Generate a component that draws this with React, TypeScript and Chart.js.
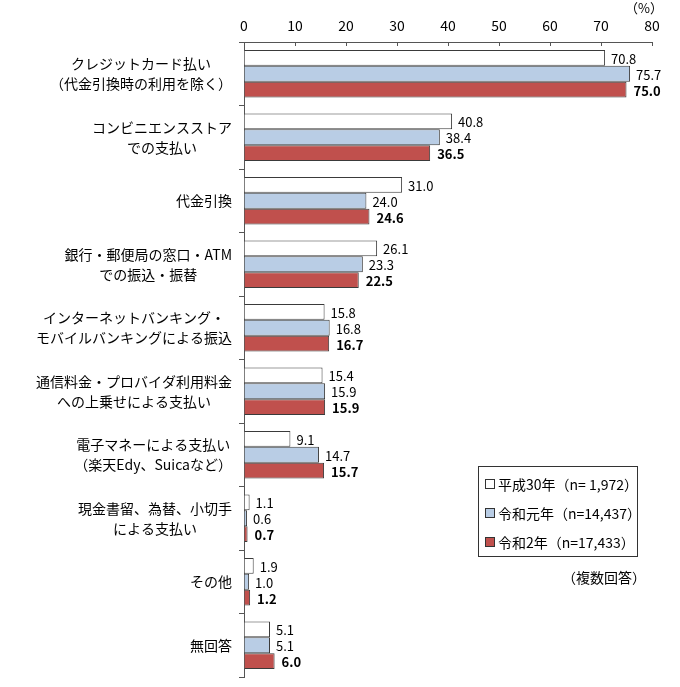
import React, { useEffect, useRef } from "react";
import { Chart, registerables } from "chart.js";

Chart.register(...registerables);

const categories: string[][] = [
  ["クレジットカード払い", "（代金引換時の利用を除く）"],
  ["コンビニエンスストア", "での支払い"],
  ["代金引換"],
  ["銀行・郵便局の窓口・ATM", "での振込・振替"],
  ["インターネットバンキング・", "モバイルバンキングによる振込"],
  ["通信料金・プロバイダ利用料金", "への上乗せによる支払い"],
  ["電子マネーによる支払い", "（楽天Edy、Suicaなど）"],
  ["現金書留、為替、小切手", "による支払い"],
  ["その他"],
  ["無回答"],
];

const seriesH30 = [70.8, 40.8, 31.0, 26.1, 15.8, 15.4, 9.1, 1.1, 1.9, 5.1];
const seriesR1 = [75.7, 38.4, 24.0, 23.3, 16.8, 15.9, 14.7, 0.6, 1.0, 5.1];
const seriesR2 = [75.0, 36.5, 24.6, 22.5, 16.7, 15.9, 15.7, 0.7, 1.2, 6.0];

const seriesNames = ["平成30年（n= 1,972）", "令和元年（n=14,437）", "令和2年（n=17,433）"];
const seriesColors = ["#FFFFFF", "#B9CDE5", "#C0504D"];

const FONT = '"Noto Sans CJK JP", "Noto Sans", sans-serif';

export default function App() {
  const canvasRef = useRef<HTMLCanvasElement | null>(null);

  useEffect(() => {
    const canvas = canvasRef.current;
    if (!canvas) return;

    const customPlugin = {
      id: "custom",
      afterDraw(chart: any) {
        const ctx = chart.ctx;
        const x = chart.scales.x;
        const y = chart.scales.y;
        const area = chart.chartArea;
        ctx.save();
        // x ticks inward
        ctx.strokeStyle = "#555";
        ctx.lineWidth = 1;
        for (let v = 0; v <= 80; v += 10) {
          const px = Math.round(x.getPixelForValue(v)) + 0.5;
          ctx.beginPath();
          ctx.moveTo(px, area.top);
          ctx.lineTo(px, area.top + 4);
          ctx.stroke();
        }
        // y category labels
        ctx.fillStyle = "#000";
        ctx.font = `14px ${FONT}`;
        ctx.textBaseline = "middle";
        ctx.textAlign = "center";
        const rightEdge = area.left - 12;
        categories.forEach((lines, i) => {
          const cy = y.getPixelForValue(i);
          const w = Math.max(...lines.map((l) => ctx.measureText(l).width));
          const cx = rightEdge - w / 2;
          const lh = 20;
          const start = cy - ((lines.length - 1) * lh) / 2;
          lines.forEach((l, j) => ctx.fillText(l, cx, start + j * lh));
        });
        // (%)
        ctx.textAlign = "center";
        ctx.font = `13px ${FONT}`;
        ctx.fillText("（%）", x.getPixelForValue(80) - 8, 8);
        ctx.restore();
      },
      afterDatasetsDraw(chart: any) {
        const ctx = chart.ctx;
        ctx.save();
        ctx.fillStyle = "#000";
        ctx.textBaseline = "middle";
        ctx.textAlign = "left";
        chart.data.datasets.forEach((ds: any, di: number) => {
          const meta = chart.getDatasetMeta(di);
          ctx.font = di === 2 ? `bold 13px ${FONT}` : `13px ${FONT}`;
          meta.data.forEach((bar: any, i: number) => {
            const v = ds.data[i] as number;
            ctx.fillText(v.toFixed(1), bar.x + (di === 2 ? 7 : 6), bar.y + 1);
          });
        });
        ctx.restore();
      },
    };

    const chart = new Chart(canvas, {
      type: "bar",
      data: {
        labels: categories.map((c) => c.join(" ")),
        datasets: [seriesH30, seriesR1, seriesR2].map((d, i) => ({
          label: seriesNames[i],
          data: d,
          backgroundColor: seriesColors[i],
          borderColor: "#3a3a3a",
          borderWidth: 1,
          categoryPercentage: 0.75,
          barPercentage: 1.0,
        })),
      },
      options: {
        indexAxis: "y",
        animation: false,
        responsive: false,
        maintainAspectRatio: false,
        layout: { padding: { left: 0, right: 28, top: 0, bottom: 10 } },
        plugins: {
          legend: { display: false },
          tooltip: { enabled: false },
        },
        scales: {
          x: {
            position: "top",
            min: 0,
            max: 80,
            ticks: {
              stepSize: 10,
              color: "#000",
              font: { family: FONT, size: 14 },
              padding: 8,
            },
            grid: { display: true, drawOnChartArea: false, drawTicks: false },
            border: { display: true, color: "#555" },
            afterFit(scale: any) {
              scale.height = 42;
            },
          },
          y: {
            ticks: { display: false },
            grid: {
              display: true,
              drawOnChartArea: false,
              drawTicks: true,
              tickLength: 5,
              offset: true,
              color: "#555",
            },
            border: { display: true, color: "#555" },
            afterFit(scale: any) {
              scale.width = 244;
            },
          },
        },
      },
      plugins: [customPlugin],
    });

    return () => chart.destroy();
  }, []);

  const legendItem = (i: number) => (
    <div key={i} style={{ display: "flex", alignItems: "center", height: 29 }}>
      <span
        style={{
          display: "inline-block",
          flexShrink: 0,
          width: 8,
          height: 8,
          border: "1px solid #333",
          background: seriesColors[i],
          marginRight: 3,
        }}
      />
      <span style={{ whiteSpace: "nowrap" }}>{seriesNames[i]}</span>
    </div>
  );

  return (
    <div
      style={{
        position: "fixed",
        left: 0,
        top: 0,
        width: 680,
        height: 687,
        background: "#fff",
        fontFamily: FONT,
      }}
    >
      <canvas ref={canvasRef} width={680} height={687} style={{ display: "block" }} />
      <div
        style={{
          position: "absolute",
          left: 478,
          top: 466,
          width: 160,
          height: 91,
          border: "1px solid #333",
          boxSizing: "border-box",
          padding: "2px 0 0 6px",
          fontSize: 14,
          color: "#000",
          whiteSpace: "nowrap",
        }}
      >
        {[0, 1, 2].map(legendItem)}
      </div>
      <div
        style={{
          position: "absolute",
          left: 562,
          top: 567,
          fontSize: 14,
          color: "#000",
        }}
      >
        （複数回答）
      </div>
    </div>
  );
}
